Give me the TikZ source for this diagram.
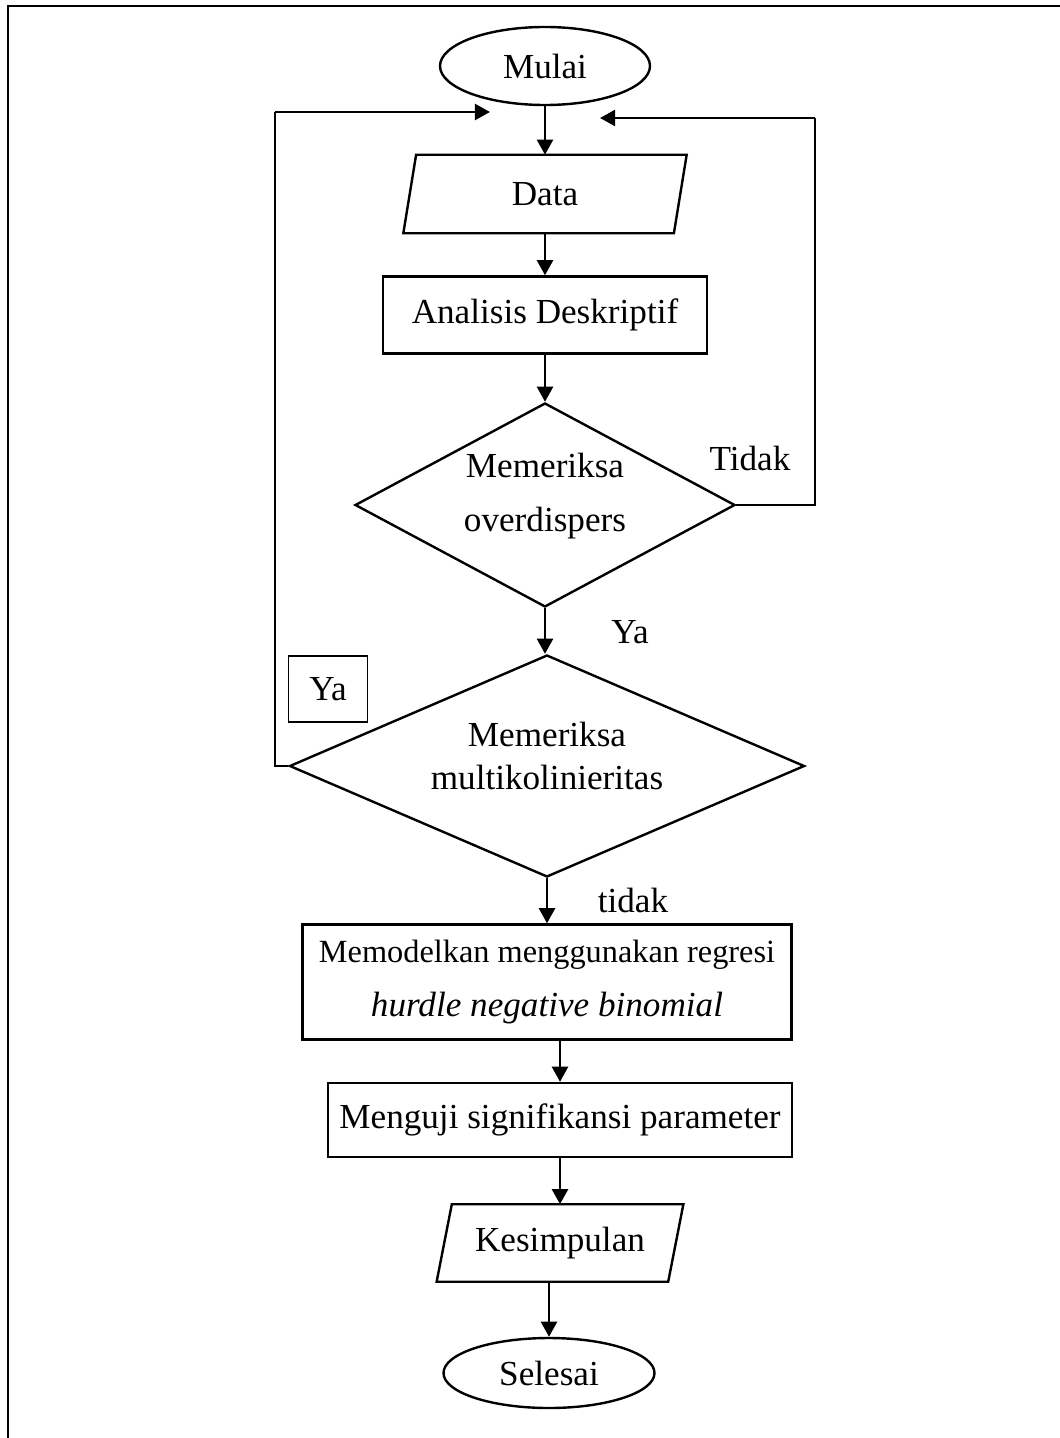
\documentclass[tikz,border=0pt]{standalone}
\usepackage{fontspec}
\setmainfont{Liberation Serif}
\usetikzlibrary{shapes.geometric, arrows.meta}

\begin{document}
\begin{tikzpicture}[x=0.25mm, y=-0.25mm,
        every node/.style={font=\fontsize{25}{39}\selectfont},
        garis/.style={line width=0.6mm},
        ujung/.style={draw, ellipse, garis, inner sep=0pt},
        kotakdata/.style={inner sep=0pt},
        proses/.style={draw, rectangle, garis, inner sep=0pt, align=center},
        keputusan/.style={draw, diamond, garis, inner sep=0pt},
        panah/.style={line width=0.7mm, -{Triangle[length=3.8mm, width=4mm]}},
        balik/.style={line width=0.35mm}]
        \useasboundingbox (0,0) rectangle (1059,1438);

        % Bingkai
        \draw[line width=0.5mm] (8,1440) -- (8,6) -- (1062,6);

        % Simbol alur
        \node[ujung, minimum width=52.5mm, minimum height=19.5mm] (mulai) at (545,66) {Mulai};
        \node[kotakdata, minimum width=67.5mm, minimum height=19.5mm] (data) at (545,194) {Data};
        \draw[garis] ([xshift=1.6mm]data.north west) -- ([xshift=1.6mm]data.north east)
            -- ([xshift=-1.6mm]data.south east) -- ([xshift=-1.6mm]data.south west) -- cycle;
        \node[proses, minimum width=81mm, minimum height=19.25mm] (analisis) at (545,315) {Analisis Deskriptif};
        \node[keputusan, minimum width=95mm, minimum height=51mm] (cek1) at (545,505) {};
        \node[align=center] (teks1) at (545,496) {Memeriksa\\overdispers};
        \node[keputusan, minimum width=128.75mm, minimum height=55.5mm] (cek2) at (547,766) {};
        \node[align=center, font=\fontsize{25}{30.5}\selectfont] (teks2) at (547,756) {Memeriksa\\multikolinieritas};
        \node[proses, minimum width=122.25mm, minimum height=28.75mm] (model) at (547,982)
            {{\fontsize{23}{39}\selectfont Memodelkan menggunakan regresi}\\\textit{hurdle negative binomial}};
        \node[proses, minimum width=116mm, minimum height=18.5mm] (uji) at (560,1120) {Menguji signifikansi parameter};
        \node[kotakdata, minimum width=57.75mm, minimum height=19.25mm] (simpul) at (560,1243) {Kesimpulan};
        \draw[garis] ([xshift=1.9mm]simpul.north west) -- ([xshift=1.9mm]simpul.north east)
            -- ([xshift=-1.9mm]simpul.south east) -- ([xshift=-1.9mm]simpul.south west) -- cycle;
        \node[ujung, minimum width=52.75mm, minimum height=17.5mm] (selesai) at (549,1373) {Selesai};

        % Label
        \node (tidak1) at (750,458) {Tidak};
        \node (ya1) at (630,632) {Ya};
        \node[draw, line width=0.3mm, minimum width=19.75mm, minimum height=16.5mm] (ya2) at (328,689) {Ya};
        \node (tidak2) at (633,900) {tidak};

        % Panah utama
        \draw[panah] (mulai.south) -- (data.north);
        \draw[panah] (data.south) -- (analisis.north);
        \draw[panah] (analisis.south) -- (cek1.north);
        \draw[panah] (cek1.south) -- (cek1.south |- cek2.north);
        \draw[panah] (cek2.south) -- (cek2.south |- model.north);
        \draw[panah] (uji.north |- model.south) -- (uji.north);
        \draw[panah] (uji.south) -- (simpul.north);
        \draw[panah] (selesai.north |- simpul.south) -- (selesai.north);

        % Umpan balik
        \coordinate (kanan) at (815,118);
        \coordinate (kananUjung) at (600,118);
        \coordinate (kiri) at (275,112);
        \coordinate (kiriUjung) at (490,112);
        \draw[balik] (cek1.east) -- (cek1.east -| kanan) -- (kanan);
        \draw[panah] (kanan) -- (kananUjung);
        \draw[balik] (cek2.west) -- (cek2.west -| kiri) -- (kiri);
        \draw[panah] (kiri) -- (kiriUjung);
    \end{tikzpicture}
\end{document}
